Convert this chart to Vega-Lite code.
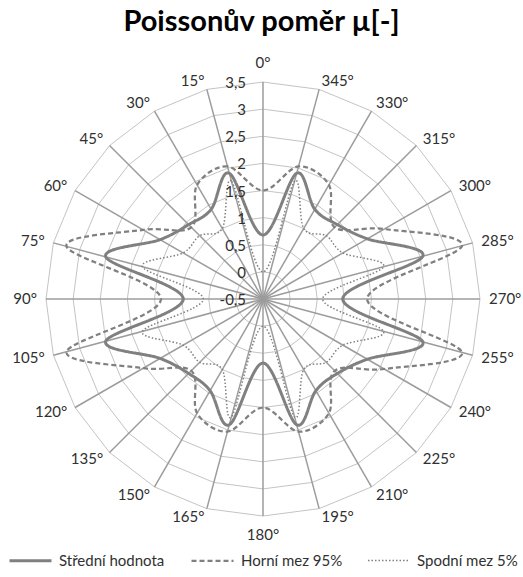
{
  "$schema": "https://vega.github.io/schema/vega-lite/v6.json",
  "width": 523,
  "height": 517,
  "autosize": "none",
  "padding": {"top": 60, "bottom": 0, "left": 0, "right": 0},
  "background": "white",
  "title": {"text": "Poissonův poměr µ[-]", "font": "Lato", "fontSize": 29, "fontWeight": "bold", "color": "#000000", "anchor": "middle", "baseline": "alphabetic", "offset": -4},
  "datasets": {
    "series": [
      {"angle": 0, "series": "Střední hodnota", "value": 0.68},
      {"angle": 15, "series": "Střední hodnota", "value": 1.9},
      {"angle": 30, "series": "Střední hodnota", "value": 1.41},
      {"angle": 45, "series": "Střední hodnota", "value": 1.44},
      {"angle": 60, "series": "Střední hodnota", "value": 1.69},
      {"angle": 75, "series": "Střední hodnota", "value": 2.5},
      {"angle": 90, "series": "Střední hodnota", "value": 0.97},
      {"angle": 105, "series": "Střední hodnota", "value": 2.5},
      {"angle": 120, "series": "Střední hodnota", "value": 1.69},
      {"angle": 135, "series": "Střední hodnota", "value": 1.44},
      {"angle": 150, "series": "Střední hodnota", "value": 1.45},
      {"angle": 165, "series": "Střední hodnota", "value": 1.9},
      {"angle": 180, "series": "Střední hodnota", "value": 0.68},
      {"angle": 195, "series": "Střední hodnota", "value": 1.9},
      {"angle": 210, "series": "Střední hodnota", "value": 1.45},
      {"angle": 225, "series": "Střední hodnota", "value": 1.44},
      {"angle": 240, "series": "Střední hodnota", "value": 1.72},
      {"angle": 255, "series": "Střední hodnota", "value": 2.55},
      {"angle": 270, "series": "Střední hodnota", "value": 0.97},
      {"angle": 285, "series": "Střední hodnota", "value": 2.55},
      {"angle": 300, "series": "Střední hodnota", "value": 1.72},
      {"angle": 315, "series": "Střední hodnota", "value": 1.44},
      {"angle": 330, "series": "Střední hodnota", "value": 1.41},
      {"angle": 345, "series": "Střední hodnota", "value": 1.9},
      {"angle": 0, "series": "Horní mez 95%", "value": 1.5},
      {"angle": 15, "series": "Horní mez 95%", "value": 2.03},
      {"angle": 30, "series": "Horní mez 95%", "value": 1.93},
      {"angle": 45, "series": "Horní mez 95%", "value": 1.37},
      {"angle": 60, "series": "Horní mez 95%", "value": 2.05},
      {"angle": 75, "series": "Horní mez 95%", "value": 3.25},
      {"angle": 90, "series": "Horní mez 95%", "value": 1.38},
      {"angle": 105, "series": "Horní mez 95%", "value": 3.25},
      {"angle": 120, "series": "Horní mez 95%", "value": 2.05},
      {"angle": 135, "series": "Horní mez 95%", "value": 1.37},
      {"angle": 150, "series": "Horní mez 95%", "value": 1.93},
      {"angle": 165, "series": "Horní mez 95%", "value": 2.03},
      {"angle": 180, "series": "Horní mez 95%", "value": 1.5},
      {"angle": 195, "series": "Horní mez 95%", "value": 2.03},
      {"angle": 210, "series": "Horní mez 95%", "value": 1.93},
      {"angle": 225, "series": "Horní mez 95%", "value": 1.37},
      {"angle": 240, "series": "Horní mez 95%", "value": 2.08},
      {"angle": 255, "series": "Horní mez 95%", "value": 3.3},
      {"angle": 270, "series": "Horní mez 95%", "value": 1.42},
      {"angle": 285, "series": "Horní mez 95%", "value": 3.3},
      {"angle": 300, "series": "Horní mez 95%", "value": 2.08},
      {"angle": 315, "series": "Horní mez 95%", "value": 1.37},
      {"angle": 330, "series": "Horní mez 95%", "value": 1.93},
      {"angle": 345, "series": "Horní mez 95%", "value": 2.03},
      {"angle": 0, "series": "Spodní mez 5%", "value": 0.0},
      {"angle": 15, "series": "Spodní mez 5%", "value": 1.75},
      {"angle": 30, "series": "Spodní mez 5%", "value": 1.0},
      {"angle": 45, "series": "Spodní mez 5%", "value": 1.15},
      {"angle": 60, "series": "Spodní mez 5%", "value": 1.2},
      {"angle": 75, "series": "Spodní mez 5%", "value": 1.8},
      {"angle": 90, "series": "Spodní mez 5%", "value": 0.6},
      {"angle": 105, "series": "Spodní mez 5%", "value": 1.8},
      {"angle": 120, "series": "Spodní mez 5%", "value": 1.2},
      {"angle": 135, "series": "Spodní mez 5%", "value": 1.15},
      {"angle": 150, "series": "Spodní mez 5%", "value": 1.0},
      {"angle": 165, "series": "Spodní mez 5%", "value": 1.75},
      {"angle": 180, "series": "Spodní mez 5%", "value": 0.0},
      {"angle": 195, "series": "Spodní mez 5%", "value": 1.75},
      {"angle": 210, "series": "Spodní mez 5%", "value": 1.0},
      {"angle": 225, "series": "Spodní mez 5%", "value": 1.15},
      {"angle": 240, "series": "Spodní mez 5%", "value": 1.2},
      {"angle": 255, "series": "Spodní mez 5%", "value": 1.8},
      {"angle": 270, "series": "Spodní mez 5%", "value": 0.6},
      {"angle": 285, "series": "Spodní mez 5%", "value": 1.8},
      {"angle": 300, "series": "Spodní mez 5%", "value": 1.2},
      {"angle": 315, "series": "Spodní mez 5%", "value": 1.15},
      {"angle": 330, "series": "Spodní mez 5%", "value": 1.0},
      {"angle": 345, "series": "Spodní mez 5%", "value": 1.75}
    ],
    "grid": [
      {"ring": [0, 0.5, 1, 1.5, 2, 2.5, 3, 3.5], "angle": [0, 15, 30, 45, 60, 75, 90, 105, 120, 135, 150, 165, 180, 195, 210, 225, 240, 255, 270, 285, 300, 315, 330, 345]}
    ],
    "angles": [
      {"angle": 0, "label": "0°"}, {"angle": 15, "label": "15°"}, {"angle": 30, "label": "30°"}, {"angle": 45, "label": "45°"},
      {"angle": 60, "label": "60°"}, {"angle": 75, "label": "75°"}, {"angle": 90, "label": "90°"}, {"angle": 105, "label": "105°"},
      {"angle": 120, "label": "120°"}, {"angle": 135, "label": "135°"}, {"angle": 150, "label": "150°"}, {"angle": 165, "label": "165°"},
      {"angle": 180, "label": "180°"}, {"angle": 195, "label": "195°"}, {"angle": 210, "label": "210°"}, {"angle": 225, "label": "225°"},
      {"angle": 240, "label": "240°"}, {"angle": 255, "label": "255°"}, {"angle": 270, "label": "270°"}, {"angle": 285, "label": "285°"},
      {"angle": 300, "label": "300°"}, {"angle": 315, "label": "315°"}, {"angle": 330, "label": "330°"}, {"angle": 345, "label": "345°"}
    ],
    "ticks": [
      {"tick": -0.5, "label": "-0,5"}, {"tick": 0, "label": "0"}, {"tick": 0.5, "label": "0,5"}, {"tick": 1, "label": "1"},
      {"tick": 1.5, "label": "1,5"}, {"tick": 2, "label": "2"}, {"tick": 2.5, "label": "2,5"}, {"tick": 3, "label": "3"}, {"tick": 3.5, "label": "3,5"}
    ]
  },
  "encoding": {
    "x": {"field": "px", "type": "quantitative", "scale": {"domain": [-4.848, 4.793], "nice": false, "zero": false}, "axis": null},
    "y": {"field": "py", "type": "quantitative", "scale": {"domain": [-5.124, 4.406], "nice": false, "zero": false}, "axis": null}
  },
  "layer": [
    {
      "data": {"name": "grid"},
      "transform": [
        {"flatten": ["ring"]},
        {"flatten": ["angle"]},
        {"calculate": "-(datum.ring + 0.5) * sin(datum.angle * PI / 180)", "as": "px"},
        {"calculate": "(datum.ring + 0.5) * cos(datum.angle * PI / 180)", "as": "py"}
      ],
      "mark": {"type": "line", "interpolate": "linear-closed", "stroke": "#c4c4c4", "strokeWidth": 1},
      "encoding": {
        "detail": {"field": "ring", "type": "nominal"},
        "order": {"field": "angle", "type": "quantitative"}
      }
    },
    {
      "data": {"name": "angles"},
      "transform": [
        {"calculate": "0", "as": "px"},
        {"calculate": "0", "as": "py"},
        {"calculate": "-4 * sin(datum.angle * PI / 180)", "as": "px2"},
        {"calculate": "4 * cos(datum.angle * PI / 180)", "as": "py2"}
      ],
      "mark": {"type": "rule", "stroke": "#9c9c9c", "strokeWidth": 1.5},
      "encoding": {
        "x2": {"field": "px2"},
        "y2": {"field": "py2"}
      }
    },
    {
      "data": {"name": "series"},
      "transform": [
        {"calculate": "-(datum.value + 0.5) * sin(datum.angle * PI / 180)", "as": "px"},
        {"calculate": "(datum.value + 0.5) * cos(datum.angle * PI / 180)", "as": "py"}
      ],
      "mark": {"type": "line", "interpolate": "cardinal-closed", "tension": 0, "stroke": "#808080"},
      "encoding": {
        "order": {"field": "angle", "type": "quantitative"},
        "strokeDash": {
          "field": "series", "type": "nominal",
          "scale": {"domain": ["Střední hodnota", "Horní mez 95%", "Spodní mez 5%"], "range": [[1, 0], [5, 3], [1.5, 2]]},
          "legend": {"title": null}
        },
        "strokeWidth": {
          "field": "series", "type": "nominal",
          "scale": {"domain": ["Střední hodnota", "Horní mez 95%", "Spodní mez 5%"], "range": [3, 1.5, 1.5]},
          "legend": {"title": null}
        }
      }
    },
    {
      "data": {"name": "ticks"},
      "transform": [
        {"calculate": "0", "as": "px"},
        {"calculate": "datum.tick + 0.5", "as": "py"}
      ],
      "mark": {"type": "text", "align": "right", "baseline": "middle", "dx": -17, "dy": 1, "font": "Lato", "fontSize": 15, "fill": "#303030"},
      "encoding": {"text": {"field": "label"}}
    },
    {
      "data": {"name": "angles"},
      "transform": [
        {"filter": "datum.angle == 0 || datum.angle == 180"},
        {"calculate": "-4.35 * sin(datum.angle * PI / 180)", "as": "px"},
        {"calculate": "4.35 * cos(datum.angle * PI / 180)", "as": "py"}
      ],
      "mark": {"type": "text", "align": "center", "baseline": "middle", "font": "Lato", "fontSize": 15, "fill": "#303030"},
      "encoding": {"text": {"field": "label"}}
    },
    {
      "data": {"name": "angles"},
      "transform": [
        {"filter": "datum.angle > 0 && datum.angle < 180"},
        {"calculate": "-4.166 * sin(datum.angle * PI / 180)", "as": "px"},
        {"calculate": "4.166 * cos(datum.angle * PI / 180)", "as": "py"}
      ],
      "mark": {"type": "text", "align": "right", "baseline": "middle", "font": "Lato", "fontSize": 15, "fill": "#303030"},
      "encoding": {"text": {"field": "label"}}
    },
    {
      "data": {"name": "angles"},
      "transform": [
        {"filter": "datum.angle > 180"},
        {"calculate": "-4.166 * sin(datum.angle * PI / 180)", "as": "px"},
        {"calculate": "4.166 * cos(datum.angle * PI / 180)", "as": "py"}
      ],
      "mark": {"type": "text", "align": "left", "baseline": "middle", "font": "Lato", "fontSize": 15, "fill": "#303030"},
      "encoding": {"text": {"field": "label"}}
    }
  ],
  "config": {
    "view": {"stroke": null},
    "legend": {
      "orient": "none", "legendX": 8, "legendY": 478, "direction": "horizontal",
      "symbolType": "stroke", "symbolSize": 1764, "symbolStrokeColor": "#808080",
      "labelFont": "Lato", "labelFontSize": 15, "labelColor": "#303030", "labelOffset": 6,
      "columnPadding": 22, "labelLimit": 300
    }
  }
}
